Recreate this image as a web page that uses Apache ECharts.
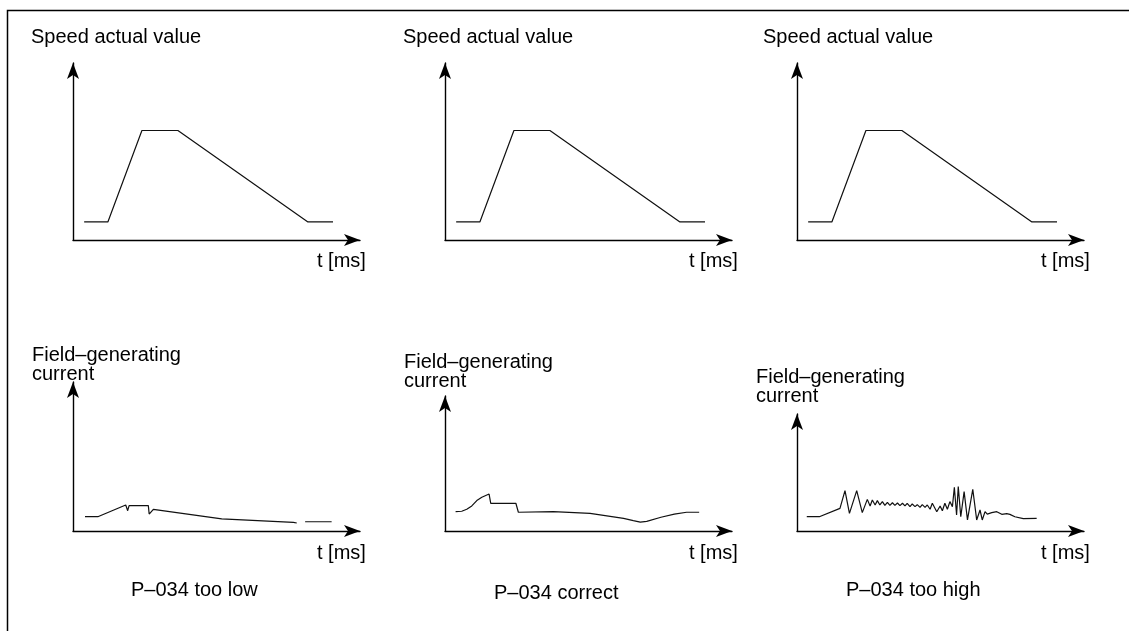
<!DOCTYPE html>
<html>
<head>
<meta charset="utf-8">
<script src="https://cdn.jsdelivr.net/npm/echarts@6/dist/echarts.min.js"></script>
<style>html,body{margin:0;padding:0;background:#fff}#c{width:1129px;height:631px}</style>
</head>
<body>
<div id="c"></div>
<script>
// ---- data (t in ms units, values in arbitrary units) ----
const speedT = [4, 12.5, 24.7, 37.6, 84.2, 93.2];
const speedV = [10.7, 10.7, 64.8, 64.8, 10.7, 10.7];

const lowT = [4.3, 8.9, 18.9, 19.2, 19.6, 20.1, 27.0, 27.3, 28.8, 53.3, 79.0, 80.2, 81.5, 83.2, 92.7];
const lowV = [10.2, 10.2, 18.6, 19.3, 14.5, 18.1, 18.1, 12.1, 15.5, 8.6, 6.2, 5.7, null, 6.6, 6.6];

const corrT = [3.8, 6.0, 7.8, 9.6, 11.4, 13.2, 15.8, 16.4, 25.4, 26.3, 38.8, 52.0, 64.0, 67.5, 70.0, 72.3, 77.4, 82.2, 86.6, 91.1];
const corrV = [13.8, 14.1, 15.5, 17.9, 21.7, 24.1, 26.4, 19.8, 19.8, 13.4, 13.8, 12.6, 9.0, 7.4, 6.4, 6.9, 9.8, 12.1, 13.4, 13.4];

const highT = [3.5, 8.0, 15.4, 17.2, 18.8, 21.4, 23.4, 25.2, 26.2, 27.0, 28.0, 28.8, 29.7, 30.6, 31.5, 32.4, 33.3, 34.2, 35.1, 36.0, 36.9, 37.8, 38.7, 39.5, 40.5, 41.3, 42.3, 43.1, 44.1, 44.9, 45.9, 46.7, 47.7, 48.5, 50.1, 51.3, 52.1, 53.0, 53.9, 54.8, 55.7, 56.4, 57.2, 57.8, 58.7, 59.9, 61.1, 63.0, 64.4, 65.6, 66.4, 67.4, 68.2, 69.8, 71.6, 73.4, 75.2, 76.3, 78.1, 81.1, 85.9];
const highV = [10.2, 10.2, 16.2, 28.8, 12.6, 28.8, 13.1, 22.6, 17.9, 22.1, 18.6, 21.7, 18.6, 21.0, 18.3, 20.5, 18.3, 20.2, 18.3, 20.0, 18.1, 19.8, 17.9, 19.8, 17.4, 19.3, 17.4, 18.8, 16.9, 18.8, 16.9, 18.6, 15.5, 19.8, 13.8, 17.9, 14.5, 19.8, 15.5, 21.0, 17.4, 31.2, 11.4, 31.7, 10.2, 28.1, 7.9, 29.8, 7.9, 15.0, 7.9, 13.8, 12.1, 13.1, 13.8, 11.9, 12.4, 11.9, 10.2, 8.8, 9.0];

const topTitle = 'Speed actual value';
const botTitle = ['Field\u2013generating', 'current'];
const axisName = 't [ms]';
const captions = ['P\u2013034 too low', 'P\u2013034 correct', 'P\u2013034 too high'];

// ---- layout ----
const FONT = '20px "Liberation Sans", Arial, sans-serif';
const origins = [73, 445, 797];
const axLen = 287;               // x-axis length up to arrow tip
const pxPerT = 2.79;             // px per t unit
const topTip = 63, topAxisY = 240, pxPerSpeed = 1.69;
const botTips = [382, 396, 414], botAxisY = 531, pxPerCur = 1.4;

const pair = (xs, ys) => xs.map((x, i) => ys[i] === null ? [x, '-'] : [x, ys[i]]);

const grids = [], xAxes = [], yAxes = [], series = [];
function axisCommon(){
  return {
    axisLine: {show: true, onZero: false, symbol: ['none', 'arrow'], symbolSize: [9, 16], lineStyle: {color: '#000', width: 1.4}},
    axisTick: {show: false}, axisLabel: {show: false}, splitLine: {show: false}
  };
}
function addPanel(left, top, bottomY, pxPerY, data){
  const gi = grids.length;
  grids.push({left: left, top: top, width: axLen, height: bottomY - top, containLabel: false});
  xAxes.push(Object.assign({type: 'value', gridIndex: gi, min: 0, max: axLen / pxPerT}, axisCommon()));
  yAxes.push(Object.assign({type: 'value', gridIndex: gi, min: 0, max: (bottomY - top) / pxPerY}, axisCommon()));
  series.push({type: 'line', xAxisIndex: gi, yAxisIndex: gi, data: data, symbol: 'none', connectNulls: false,
    lineStyle: {color: '#111', width: 1.2}, animation: false, silent: true});
}
origins.forEach(o => addPanel(o, topTip, topAxisY, pxPerSpeed, pair(speedT, speedV)));
[pair(lowT, lowV), pair(corrT, corrV), pair(highT, highV)].forEach((d, i) => {
  addPanel(origins[i], botTips[i], botAxisY, pxPerCur, d);
});

const graphic = [];
function txt(s, x, y){
  graphic.push({type: 'text', x: x, y: y, silent: true,
    style: {text: s, font: FONT, fill: '#000', verticalAlign: 'middle', align: 'left'}});
}
const titleX = [31, 403, 763];
titleX.forEach(x => txt(topTitle, x, 37));
const nameX = [317, 689, 1041];
nameX.forEach(x => { txt(axisName, x, 261); txt(axisName, x, 553); });
const fgX = [32, 404, 756], fgY = [355, 362, 377];
fgX.forEach((x, i) => { txt(botTitle[0], x, fgY[i]); txt(botTitle[1], x, fgY[i] + 19); });
const capX = [131, 494, 846], capY = [590, 593, 590];
captions.forEach((c, i) => txt(c, capX[i], capY[i]));
graphic.push({type: 'polyline', silent: true, shape: {points: [[7.5, 631], [7.5, 10.5], [1129, 10.5]]},
  style: {stroke: '#000', lineWidth: 1.5, fill: null}});

const chart = echarts.init(document.getElementById('c'), null, {renderer: 'canvas'});
chart.setOption({
  animation: false,
  backgroundColor: '#fff',
  grid: grids, xAxis: xAxes, yAxis: yAxes, series: series, graphic: graphic
});
</script>
</body>
</html>
